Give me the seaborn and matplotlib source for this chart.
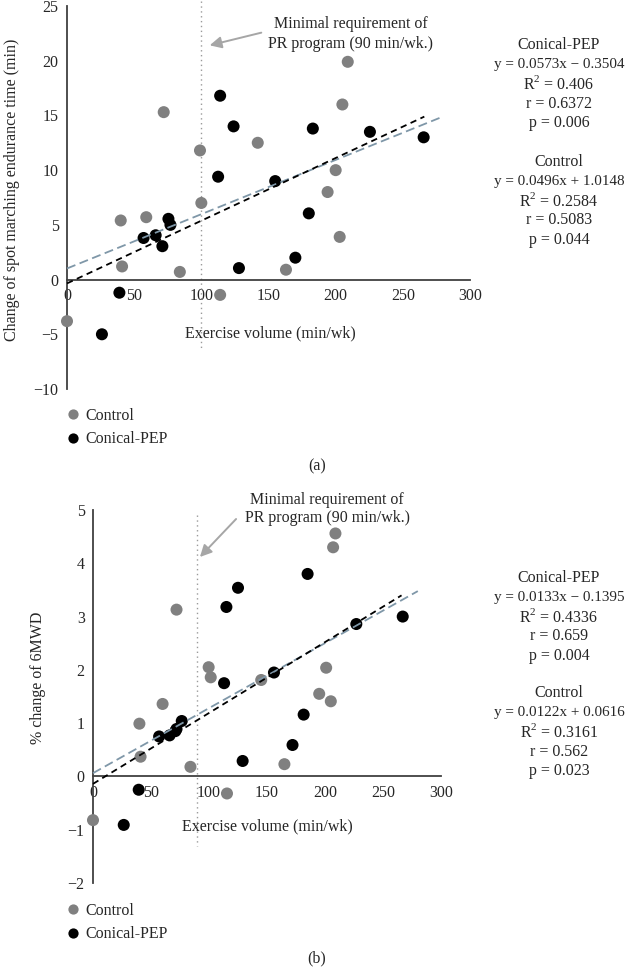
import numpy as np
import pandas as pd
import seaborn as sns
import matplotlib.pyplot as plt

# ---- panel (a): change of spot marching endurance time ----
ctrl_x_a = [0, 40, 41, 59, 72, 84, 99, 100, 114, 142, 163, 194, 200, 203, 205, 209]
ctrl_y_a = [-3.8, 5.4, 1.2, 5.7, 15.3, 0.7, 11.8, 7.0, -1.4, 12.5, 0.9, 8.0, 10.0, 3.9, 16.0, 19.9]
pep_x_a = [26, 39, 57, 66, 71, 75.5, 77, 112.5, 114, 124, 128, 155, 170, 180, 183, 225.5, 265.5]
pep_y_a = [-5.0, -1.2, 3.8, 4.05, 3.05, 5.55, 5.0, 9.4, 16.8, 14.0, 1.05, 9.0, 2.0, 6.05, 13.8, 13.5, 13.0]

# ---- panel (b): % change of 6MWD ----
ctrl_x_b = [0, 40, 41, 60, 72, 84, 99.7, 101.5, 115.5, 145, 165, 195, 201, 205, 207, 209]
ctrl_y_b = [-0.82, 0.99, 0.37, 1.36, 3.13, 0.18, 2.05, 1.86, -0.32, 1.81, 0.23, 1.55, 2.04, 1.41, 4.3, 4.56]
pep_x_b = [26.5, 39.4, 57, 66, 71, 72, 76.5, 113, 115, 125, 129, 156, 172, 181.6, 185, 227, 267]
pep_y_b = [-0.91, -0.25, 0.75, 0.77, 0.85, 0.89, 1.04, 1.75, 3.18, 3.54, 0.29, 1.95, 0.59, 1.16, 3.8, 2.86, 3.0]

# trend lines (slope, intercept, last x) in order Control, Conical-PEP
groups = ["Control", "Conical-PEP"]
slope_a = [0.0496, 0.0573]
icpt_a = [1.0148, -0.3504]
slope_b = [0.0122, 0.0133]
icpt_b = [0.0616, -0.1395]
line_end = [280, 266]

stats_a = [["Conical-PEP", "y = 0.0573x \u2212 0.3504", "R$^2$ = 0.406", "r = 0.6372", "p = 0.006"],
           ["Control", "y = 0.0496x + 1.0148", "R$^2$ = 0.2584", "r = 0.5083", "p = 0.044"]]
stats_b = [["Conical-PEP", "y = 0.0133x \u2212 0.1395", "R$^2$ = 0.4336", "r = 0.659", "p = 0.004"],
           ["Control", "y = 0.0122x + 0.0616", "R$^2$ = 0.3161", "r = 0.562", "p = 0.023"]]

note = "Minimal requirement of\nPR program (90 min/wk.)"

sns.set_style("white")
plt.rcParams['font.family'] = ['Liberation Serif', 'DejaVu Serif']
plt.rcParams['mathtext.fontset'] = 'custom'
plt.rcParams['mathtext.rm'] = 'Liberation Serif'
FS = 11.5
W, H = 628, 969
fig = plt.figure(figsize=(W / 100, H / 100), dpi=100)

palette = {"Control": "#808080", "Conical-PEP": "#000000"}
line_style = {"Control": dict(color="#7f97a8", dashes=(5, 2.5)),
              "Conical-PEP": dict(color="#000000", dashes=(3.5, 2.5))}


def fx(px):
    return px / W


def fy(py):
    return 1 - py / H


def panel(rect, cx, cy, px, py, slopes, icpts, ylim, yticks, req, req_y, ylabel,
          ylab_pos, xlab_pos, note_pos, arrow, stats, stat_y, leg_y, letter, letter_y):
    ax = fig.add_axes(rect)
    df = pd.DataFrame({
        "x": cx + px,
        "y": cy + py,
        "group": ["Control"] * len(cx) + ["Conical-PEP"] * len(px),
    })
    sns.scatterplot(data=df, x="x", y="y", hue="group", palette=palette, s=75,
                    edgecolor="none", clip_on=False, ax=ax, zorder=3)
    for g, m, b, end in zip(groups, slopes, icpts, line_end):
        xs = np.array([0, end])
        ax.plot(xs, m * xs + b, lw=1.3, zorder=4, clip_on=False, **line_style[g])
    ax.plot([req, req], req_y, color="#9a9a9a", lw=1, ls=(0, (1, 2.5)), zorder=1, clip_on=False)

    ax.set_xlim(0, 300)
    ax.set_ylim(*ylim)
    ax.set_xticks(range(0, 301, 50))
    ax.set_yticks(yticks)
    ax.tick_params(labelsize=FS, direction="out", length=4, width=1, color="#404040", pad=2)
    for s in ["top", "right"]:
        ax.spines[s].set_visible(False)
    ax.spines["left"].set_position(("data", 0))
    ax.spines["bottom"].set_position(("data", 0))
    for s in ["left", "bottom"]:
        ax.spines[s].set_color("#404040")
        ax.spines[s].set_linewidth(1.3)
    ax.set_xlabel("")
    ax.set_ylabel("")
    fig.text(fx(ylab_pos[0]), fy(ylab_pos[1]), ylabel, rotation=90, ha="center", va="center", fontsize=FS)
    fig.text(fx(xlab_pos[0]), fy(xlab_pos[1]), "Exercise volume (min/wk)", ha="center", va="center", fontsize=FS)

    fig.text(fx(note_pos[0]), fy(note_pos[1]), note, ha="center", va="center", fontsize=FS, linespacing=1.25)
    fig.add_artist(plt.matplotlib.patches.FancyArrowPatch(
        (fx(arrow[0]), fy(arrow[1])), (fx(arrow[2]), fy(arrow[3])), transform=fig.transFigure,
        arrowstyle="-|>,head_length=7,head_width=3.5", color="#a6a6a6", lw=1.4))

    # regression statistics, right of the plot
    for block, y0 in zip(stats, stat_y):
        for i, t in enumerate(block):
            size = FS - 0.6 if t.startswith("y =") else FS
            fig.text(fx(559), fy(y0 + i * 19.5), t, ha="center", va="center", fontsize=size)

    ax.legend(loc="upper left", bbox_to_anchor=(fx(55), fy(leg_y)), bbox_transform=fig.transFigure,
              frameon=False, fontsize=FS, handletextpad=0.2, labelspacing=0.45, borderpad=0,
              handlelength=1.2, markerscale=0.85)
    fig.text(fx(317), fy(letter_y), letter, ha="center", va="center", fontsize=FS)
    return ax


panel([fx(67), fy(389), fx(470) - fx(67), fy(6) - fy(389)],
      ctrl_x_a, ctrl_y_a, pep_x_a, pep_y_a, slope_a, icpt_a,
      (-10, 25), range(-10, 26, 5), 100, [25.5, -6.5],
      "Change of spot marching endurance time (min)", (12, 190), (270, 333),
      (351, 34), (264, 32, 207, 46), stats_a, [45, 162], 400, "(a)", 466)

panel([fx(93), fy(883), fx(441) - fx(93), fy(510) - fy(883)],
      ctrl_x_b, ctrl_y_b, pep_x_b, pep_y_b, slope_b, icpt_b,
      (-2, 5), range(-2, 6, 1), 90, [4.9, -1.3],
      "% change of 6MWD", (38, 678), (267, 826),
      (327, 509), (238, 517, 198, 559), stats_b, [578, 693], 895, "(b)", 958)

fig.savefig("out.png", dpi=100)
